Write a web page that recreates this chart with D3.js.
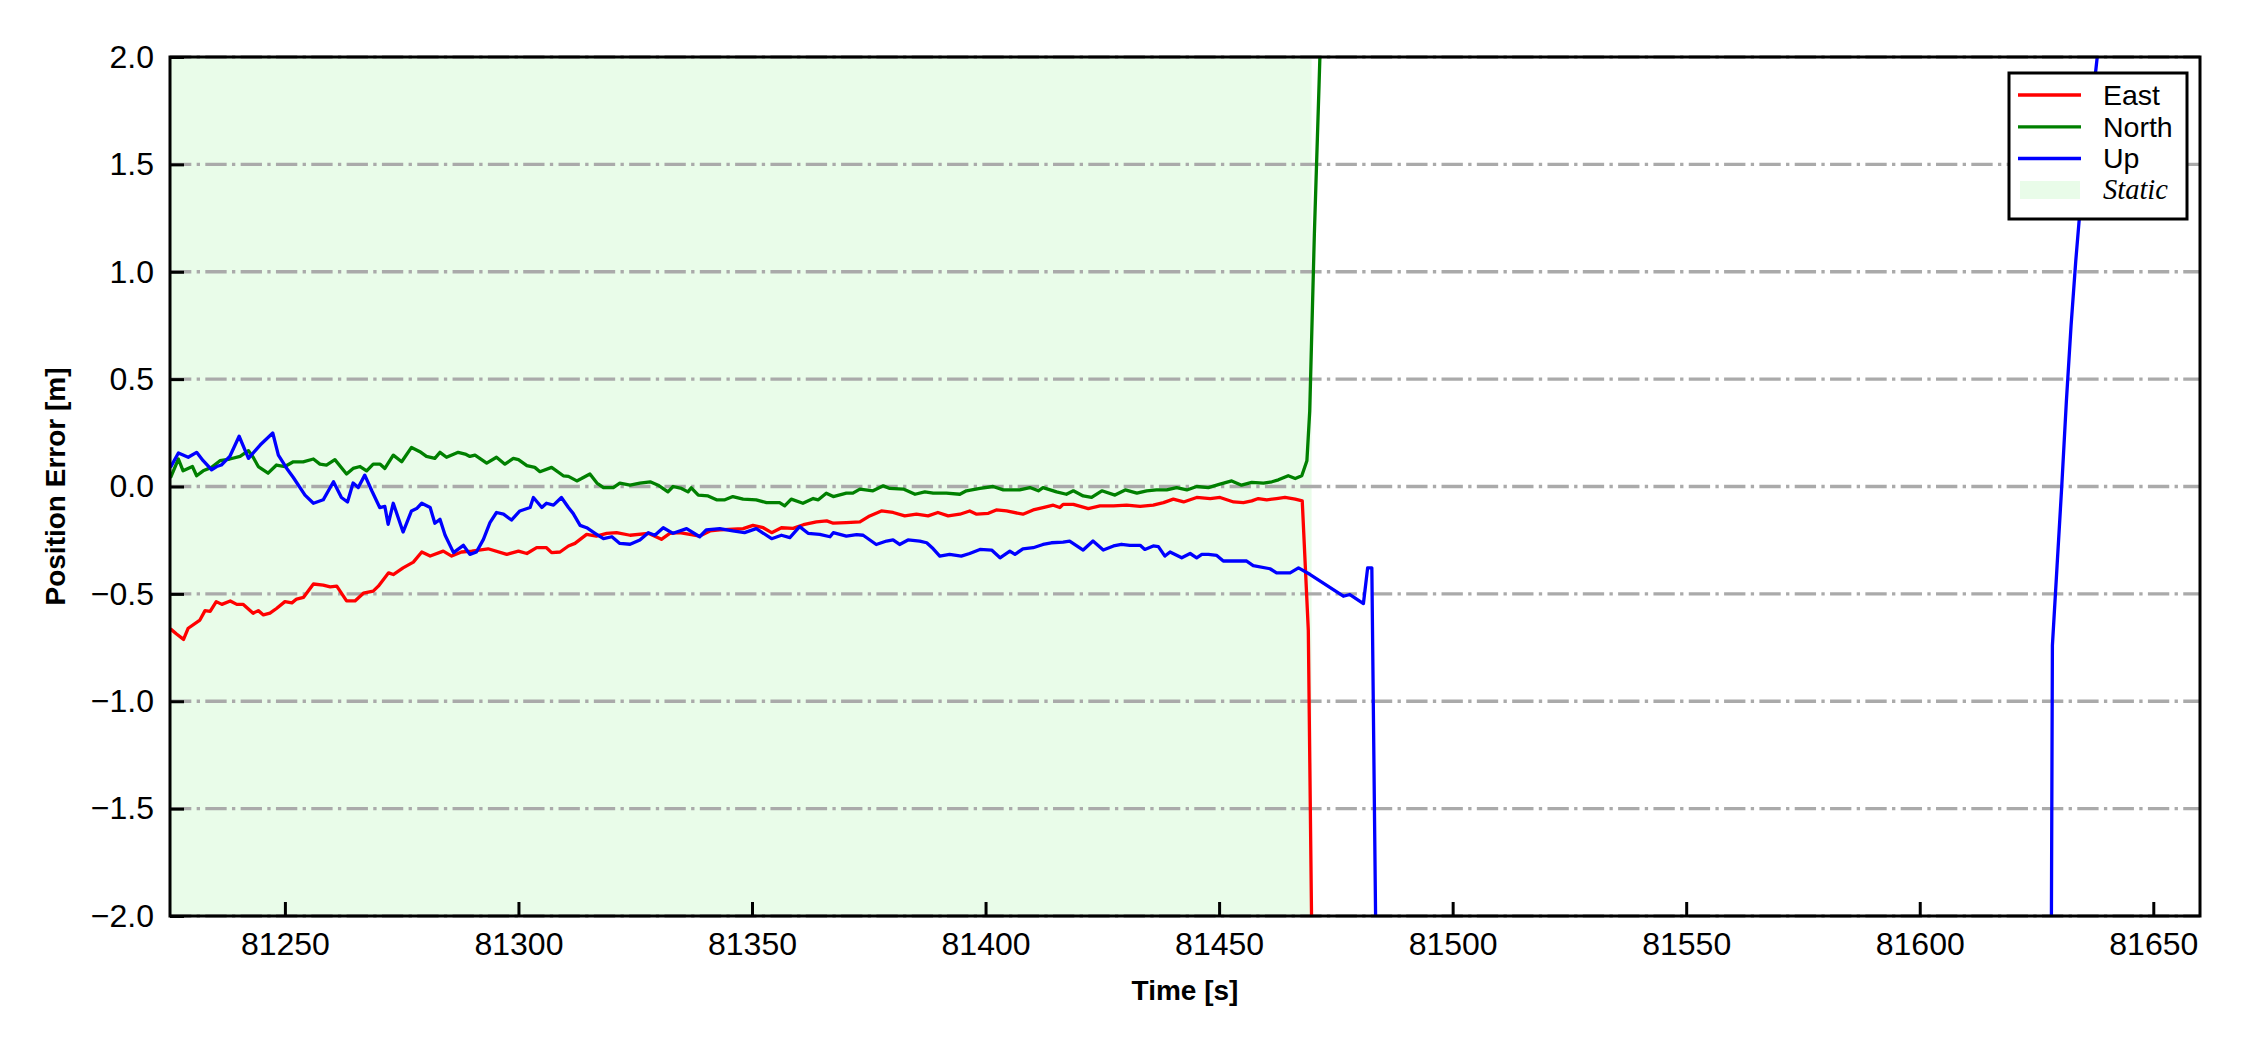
<!DOCTYPE html>
<html><head><meta charset="utf-8">
<script src="https://cdn.jsdelivr.net/npm/d3@7"></script>
<style>body{margin:0;background:#fff} svg{display:block}</style>
</head><body>
<svg id="c" width="2250" height="1050"></svg>
<script>
// ---- data (time [s], error [m]) ----
const east = [[81225.5,-0.663],[81226.8,-0.687],[81228.3,-0.712],[81229.3,-0.66],[81231.8,-0.622],[81232.9,-0.578],[81234.0,-0.581],[81235.3,-0.536],[81236.5,-0.549],[81238.3,-0.533],[81239.7,-0.549],[81241.1,-0.549],[81243.2,-0.59],[81244.3,-0.578],[81245.4,-0.598],[81246.8,-0.59],[81248.2,-0.568],[81250.0,-0.536],[81251.5,-0.542],[81252.5,-0.524],[81254.0,-0.516],[81256.1,-0.454],[81258.2,-0.459],[81259.7,-0.467],[81261.1,-0.464],[81263.2,-0.533],[81265.0,-0.533],[81266.8,-0.497],[81268.9,-0.487],[81270.0,-0.464],[81272.2,-0.402],[81273.2,-0.41],[81275.3,-0.379],[81277.5,-0.352],[81279.3,-0.305],[81281.1,-0.324],[81283.9,-0.301],[81285.7,-0.324],[81287.8,-0.305],[81290.0,-0.301],[81293.5,-0.29],[81297.5,-0.316],[81300.0,-0.301],[81301.8,-0.312],[81303.9,-0.285],[81306.0,-0.285],[81307.1,-0.308],[81308.9,-0.305],[81310.7,-0.277],[81312.1,-0.265],[81314.6,-0.223],[81316.7,-0.231],[81318.9,-0.218],[81321.0,-0.215],[81323.9,-0.227],[81327.8,-0.218],[81330.6,-0.246],[81332.4,-0.218],[81334.5,-0.215],[81336.7,-0.223],[81338.8,-0.231],[81341.0,-0.207],[81343.1,-0.202],[81345.9,-0.199],[81348.1,-0.196],[81350.2,-0.181],[81352.4,-0.192],[81354.2,-0.215],[81356.3,-0.192],[81358.8,-0.195],[81361.0,-0.178],[81363.8,-0.165],[81366.0,-0.16],[81367.4,-0.171],[81370.2,-0.168],[81373.1,-0.165],[81375.2,-0.137],[81377.7,-0.114],[81380.2,-0.121],[81382.7,-0.137],[81385.2,-0.129],[81387.7,-0.137],[81389.8,-0.121],[81392.0,-0.137],[81394.5,-0.129],[81396.6,-0.114],[81398.1,-0.129],[81400.6,-0.125],[81402.3,-0.109],[81404.5,-0.114],[81408.0,-0.129],[81410.2,-0.109],[81412.3,-0.098],[81414.5,-0.087],[81415.9,-0.098],[81416.6,-0.083],[81418.8,-0.083],[81422.0,-0.103],[81424.5,-0.09],[81427.4,-0.09],[81430.2,-0.087],[81433.1,-0.093],[81435.9,-0.087],[81438.1,-0.075],[81440.2,-0.059],[81442.4,-0.072],[81445.2,-0.051],[81448.1,-0.056],[81450.2,-0.051],[81453.1,-0.072],[81455.2,-0.075],[81457.0,-0.067],[81458.4,-0.056],[81460.2,-0.062],[81462.3,-0.056],[81464.1,-0.051],[81466.3,-0.059],[81467.8,-0.067],[81469.1,-0.67],[81470.1,-2.6],[81471.1,-8.0]];

const north = [[81225.5,0.04],[81227.2,0.128],[81228.2,0.073],[81230.2,0.093],[81231.1,0.05],[81232.5,0.073],[81234.3,0.089],[81236.1,0.12],[81238.2,0.128],[81240.4,0.14],[81242.2,0.167],[81243.2,0.136],[81244.3,0.093],[81246.4,0.062],[81248.2,0.1],[81250.0,0.093],[81251.8,0.115],[81253.9,0.115],[81256.1,0.128],[81257.5,0.104],[81258.9,0.1],[81260.7,0.125],[81263.2,0.058],[81264.6,0.084],[81266.1,0.093],[81267.5,0.073],[81268.9,0.104],[81270.4,0.104],[81271.4,0.084],[81273.2,0.146],[81275.0,0.115],[81277.1,0.182],[81278.9,0.162],[81280.3,0.14],[81282.1,0.131],[81283.2,0.159],[81284.6,0.136],[81287.1,0.159],[81288.6,0.151],[81289.6,0.14],[81290.7,0.146],[81293.2,0.109],[81295.3,0.136],[81297.1,0.104],[81298.9,0.131],[81300.0,0.125],[81301.8,0.097],[81303.5,0.089],[81304.6,0.069],[81307.1,0.089],[81309.6,0.05],[81310.7,0.047],[81312.5,0.026],[81313.5,0.037],[81315.3,0.058],[81316.8,0.016],[81318.2,-0.005],[81320.3,-0.005],[81321.7,0.016],[81323.9,0.006],[81326.0,0.016],[81328.2,0.022],[81329.9,0.006],[81332.0,-0.025],[81333.1,0.0],[81334.9,-0.009],[81336.3,-0.025],[81337.0,-0.006],[81338.5,-0.04],[81340.6,-0.044],[81342.4,-0.062],[81344.2,-0.062],[81345.9,-0.047],[81348.1,-0.059],[81350.9,-0.062],[81353.1,-0.075],[81355.9,-0.075],[81357.0,-0.09],[81358.4,-0.059],[81360.9,-0.078],[81363.1,-0.056],[81364.2,-0.062],[81365.9,-0.031],[81367.4,-0.047],[81370.2,-0.031],[81371.6,-0.031],[81373.1,-0.012],[81375.9,-0.02],[81378.1,0.003],[81379.5,-0.009],[81382.4,-0.012],[81384.9,-0.036],[81387.0,-0.025],[81388.8,-0.031],[81391.6,-0.031],[81394.5,-0.036],[81395.9,-0.02],[81398.8,-0.009],[81401.6,0.0],[81403.8,-0.016],[81407.3,-0.016],[81409.5,-0.005],[81411.3,-0.02],[81412.3,-0.005],[81415.2,-0.025],[81417.3,-0.036],[81418.8,-0.02],[81420.9,-0.044],[81422.7,-0.051],[81424.9,-0.02],[81427.7,-0.04],[81429.9,-0.016],[81432.4,-0.031],[81434.5,-0.02],[81436.6,-0.016],[81438.8,-0.016],[81440.9,-0.005],[81443.1,-0.016],[81445.2,0.0],[81447.7,-0.005],[81450.2,0.011],[81452.7,0.026],[81454.8,0.006],[81457.0,0.019],[81459.5,0.016],[81461.3,0.022],[81462.7,0.031],[81464.8,0.05],[81466.3,0.037],[81467.7,0.05],[81468.8,0.12],[81469.4,0.35],[81470.4,1.18],[81471.4,1.87],[81472.4,2.6],[81473.4,3.4]];

const up = [[81225.5,0.089],[81227.2,0.156],[81229.3,0.136],[81231.1,0.159],[81232.5,0.12],[81234.3,0.078],[81235.4,0.093],[81236.4,0.1],[81238.2,0.14],[81240.2,0.234],[81242.2,0.131],[81244.7,0.193],[81247.4,0.249],[81248.6,0.146],[81250.4,0.084],[81251.8,0.042],[81254.3,-0.04],[81256.1,-0.078],[81258.2,-0.062],[81260.4,0.022],[81262.1,-0.051],[81263.4,-0.072],[81264.6,0.016],[81265.7,-0.005],[81267.1,0.053],[81268.6,-0.02],[81270.3,-0.098],[81271.4,-0.093],[81272.1,-0.176],[81273.2,-0.078],[81275.3,-0.212],[81277.1,-0.114],[81278.2,-0.103],[81279.3,-0.078],[81281.1,-0.098],[81282.1,-0.171],[81283.2,-0.153],[81284.3,-0.227],[81286.1,-0.308],[81288.2,-0.274],[81289.6,-0.316],[81291.0,-0.305],[81292.5,-0.246],[81293.9,-0.168],[81295.3,-0.121],[81296.8,-0.129],[81298.5,-0.156],[81300.3,-0.114],[81302.5,-0.098],[81303.2,-0.051],[81305.0,-0.098],[81306.0,-0.078],[81307.5,-0.087],[81309.2,-0.051],[81310.7,-0.098],[81311.7,-0.125],[81313.2,-0.181],[81314.6,-0.192],[81316.4,-0.218],[81318.2,-0.243],[81320.0,-0.234],[81321.7,-0.265],[81323.9,-0.269],[81326.0,-0.249],[81327.8,-0.215],[81329.2,-0.227],[81331.0,-0.192],[81333.1,-0.218],[81336.0,-0.196],[81338.8,-0.234],[81340.2,-0.202],[81343.1,-0.196],[81345.9,-0.207],[81348.4,-0.215],[81350.9,-0.196],[81354.2,-0.243],[81356.3,-0.227],[81358.1,-0.238],[81360.2,-0.187],[81362.0,-0.218],[81364.5,-0.223],[81366.7,-0.234],[81367.4,-0.215],[81370.2,-0.231],[81372.4,-0.224],[81373.8,-0.227],[81376.6,-0.27],[81378.8,-0.254],[81380.2,-0.249],[81381.6,-0.27],[81383.4,-0.249],[81385.9,-0.254],[81387.4,-0.262],[81388.8,-0.29],[81390.2,-0.324],[81392.3,-0.316],[81394.8,-0.324],[81396.6,-0.312],[81398.8,-0.293],[81401.3,-0.296],[81403.1,-0.332],[81405.2,-0.301],[81406.3,-0.316],[81408.0,-0.29],[81410.2,-0.285],[81412.3,-0.27],[81414.1,-0.262],[81416.6,-0.259],[81418.0,-0.254],[81420.9,-0.296],[81423.0,-0.254],[81425.2,-0.296],[81427.4,-0.277],[81429.1,-0.269],[81430.9,-0.274],[81433.1,-0.274],[81434.1,-0.293],[81435.9,-0.277],[81437.0,-0.28],[81438.4,-0.324],[81439.5,-0.305],[81442.0,-0.332],[81443.8,-0.312],[81445.2,-0.332],[81446.3,-0.316],[81447.7,-0.316],[81449.5,-0.321],[81450.9,-0.347],[81453.8,-0.347],[81455.9,-0.347],[81457.3,-0.368],[81460.9,-0.383],[81462.3,-0.402],[81465.2,-0.402],[81467.0,-0.379],[81469.5,-0.41],[81476.6,-0.511],[81478.0,-0.503],[81480.9,-0.545],[81481.8,-0.379],[81482.7,-0.379],[81483.7,-2.4],[81484.7,-8.0],[81627.4,-6.7],[81628.4,-0.74],[81629.4,-0.37],[81630.4,0.0],[81631.4,0.4],[81632.4,0.75],[81633.4,1.05],[81634.4,1.31],[81635.4,1.5],[81636.4,1.69],[81637.4,1.88],[81638.4,2.08],[81639.4,2.3]];

const staticSpan = [81225.4, 81469.8];
const xDomain = [81225.4, 81660];
const yDomain = [-2, 2];
const xTicks = [81250, 81300, 81350, 81400, 81450, 81500, 81550, 81600, 81650];
const yTicks = [-2.0, -1.5, -1.0, -0.5, 0.0, 0.5, 1.0, 1.5, 2.0];
const seriesNames = ["East", "North", "Up"];
const seriesColors = ["#ff0000", "#008000", "#0000ff"];
const staticLabel = "Static";
const staticColor = "#e9fce9";
const xLabel = "Time [s]";
const yLabel = "Position Error [m]";

// ---- drawing ----
const m = {left:170, right:2200, top:57, bottom:916};
const svg = d3.select("#c");
const sans = "'Liberation Sans', Arial, sans-serif";
const x = d3.scaleLinear().domain(xDomain).range([m.left, m.right]);
const y = d3.scaleLinear().domain(yDomain).range([m.bottom, m.top]);

svg.append("defs").append("clipPath").attr("id","clip").append("rect")
  .attr("x", m.left).attr("y", m.top).attr("width", m.right-m.left).attr("height", m.bottom-m.top);

// static span
svg.append("rect")
  .attr("x", x(staticSpan[0])).attr("y", m.top)
  .attr("width", x(staticSpan[1]) - x(staticSpan[0])).attr("height", m.bottom - m.top)
  .attr("fill", staticColor).attr("clip-path","url(#clip)");

// horizontal grid
svg.append("g").selectAll("line").data(yTicks).join("line")
  .attr("x1", m.left).attr("x2", m.right)
  .attr("y1", d => y(d)).attr("y2", d => y(d))
  .attr("stroke", "#aaaaaa").attr("stroke-width", 3.33)
  .attr("stroke-dasharray", "21.33,5.33,3.33,5.33");

// series lines
const line = d3.line().x(d => x(d[0])).y(d => y(d[1]));
const series = [east, north, up];
svg.append("g").attr("clip-path","url(#clip)").selectAll("path").data(series).join("path")
  .attr("d", line).attr("fill","none")
  .attr("stroke", (d,i) => seriesColors[i]).attr("stroke-width", 3.3)
  .attr("stroke-linejoin","round");

// axes
const xAxis = svg.append("g").attr("transform", `translate(0,${m.bottom})`)
  .call(d3.axisBottom(x).tickValues(xTicks).tickFormat(d3.format("d")).tickSizeInner(-14).tickSizeOuter(0).tickPadding(16));
const yAxis = svg.append("g").attr("transform", `translate(${m.left},0)`)
  .call(d3.axisLeft(y).tickValues(yTicks).tickFormat(d3.format(".1f")).tickSizeInner(-14).tickSizeOuter(0).tickPadding(16));
[xAxis, yAxis].forEach(g => {
  g.select(".domain").remove();
  g.selectAll(".tick line").attr("stroke","#000").attr("stroke-width",3);
  g.selectAll(".tick text").attr("font-family", sans).attr("font-size", 32).attr("fill","#000");
});

// spines
svg.append("rect").attr("x", m.left).attr("y", m.top)
  .attr("width", m.right-m.left).attr("height", m.bottom-m.top)
  .attr("fill","none").attr("stroke","#000").attr("stroke-width",3);

// axis labels
svg.append("text").attr("x", (m.left+m.right)/2).attr("y", 1000)
  .attr("text-anchor","middle").attr("font-family", sans).attr("font-weight","bold").attr("font-size", 28)
  .text(xLabel);
svg.append("text").attr("transform", `translate(65,${(m.top+m.bottom)/2}) rotate(-90)`)
  .attr("text-anchor","middle").attr("font-family", sans).attr("font-weight","bold").attr("font-size", 28)
  .text(yLabel);

// legend
const lg = svg.append("g");
lg.append("rect").attr("x", 2009).attr("y", 73).attr("width", 178).attr("height", 146)
  .attr("fill","#fff").attr("stroke","#000").attr("stroke-width",3);
const rowY = [95, 126.8, 158.5, 190];
seriesNames.forEach((name, i) => {
  lg.append("line").attr("x1", 2018).attr("x2", 2081).attr("y1", rowY[i]).attr("y2", rowY[i])
    .attr("stroke", seriesColors[i]).attr("stroke-width", 3.3);
  lg.append("text").attr("x", 2103).attr("y", rowY[i]).attr("dy","0.35em")
    .attr("font-family", sans).attr("font-size", 28.5).text(name);
});
lg.append("rect").attr("x", 2020).attr("y", 181).attr("width", 60).attr("height", 18).attr("fill", staticColor);
lg.append("text").attr("x", 2103).attr("y", 199)
  .attr("font-family","'Liberation Serif','Times New Roman',serif").attr("font-style","italic")
  .attr("font-size", 28.5).text(staticLabel);
</script>
</body></html>
